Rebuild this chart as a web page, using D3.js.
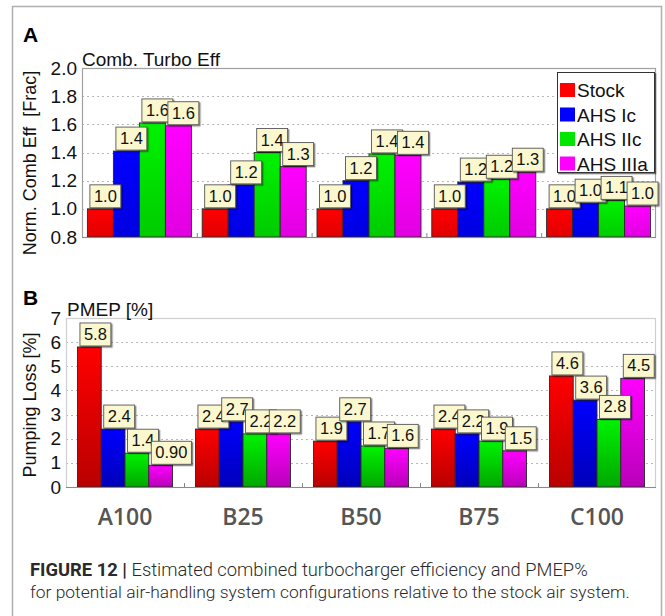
<!DOCTYPE html>
<html>
<head>
<meta charset="utf-8">
<script src="https://cdn.jsdelivr.net/npm/d3@7"></script>
<style>
  html, body { margin: 0; padding: 0; background: #fff; }
  svg { display: block; }
</style>
</head>
<body>
<svg id="chart" width="665" height="616"></svg>
<script>
// ---- data ----
const categories = ["A100", "B25", "B50", "B75", "C100"];
const seriesNames = ["Stock", "AHS Ic", "AHS IIc", "AHS IIIa"];
const seriesColors = ["#ff0000", "#0000ff", "#00e600", "#ff00ff"];
// Panel A: normalised combined turbo efficiency [Frac]
const stockEff = [1.0, 1.0, 1.0, 1.0, 1.0];
const ahsIcEff = [1.41, 1.17, 1.20, 1.19, 1.04];
const ahsIIcEff = [1.61, 1.40, 1.39, 1.21, 1.06];
const ahsIIIaEff = [1.59, 1.30, 1.38, 1.26, 1.02];
const effTicks = [0.8, 1.0, 1.2, 1.4, 1.6, 1.8, 2.0];
// Panel B: PMEP [%]
const stockPmep = [5.8, 2.4, 1.9, 2.4, 4.6];
const ahsIcPmep = [2.4, 2.7, 2.7, 2.2, 3.6];
const ahsIIcPmep = [1.4, 2.2, 1.7, 1.9, 2.8];
const ahsIIIaPmep = [0.90, 2.2, 1.6, 1.5, 4.5];
const pmepTicks = [0, 1, 2, 3, 4, 5, 6, 7];

const svg = d3.select("#chart");
const FONT = "'Liberation Sans', Arial, sans-serif";

// outer frame
svg.append("path")
  .attr("d", "M12.5,620 V6.5 H661.5 V620")
  .attr("fill", "none").attr("stroke", "#b0b0b0").attr("stroke-width", 1.5);

const defs = svg.append("defs");
function makeGrad(id, color, k) {
  const c = d3.rgb(color);
  const g = defs.append("linearGradient").attr("id", id)
    .attr("x1", 0).attr("y1", 0).attr("x2", 0).attr("y2", 1);
  g.append("stop").attr("offset", "0%").attr("stop-color", c.brighter(0.15));
  g.append("stop").attr("offset", "100%").attr("stop-color", c.darker(k));
}
const shadowF = defs.append("filter").attr("id", "shadow")
  .attr("x", "-20%").attr("y", "-20%").attr("width", "150%").attr("height", "150%");
shadowF.append("feDropShadow").attr("dx", 1.3).attr("dy", 1.3)
  .attr("stdDeviation", 0.7).attr("flood-color", "#000").attr("flood-opacity", 0.5);

function panel(cfg) {
  const { id, left, right, top, bottom, domain, ticks, tickFmt, values, padFrac,
          gradK, borderColor, yTitle, subTitle, subX, letter, letterY, yTitleCenter } = cfg;
  const y = d3.scaleLinear().domain(domain).range([bottom, top]);
  const x0 = d3.scaleBand().domain(categories).range([left, right]).padding(0);
  const pad = x0.bandwidth() * padFrac;
  const x1 = d3.scaleBand().domain(seriesNames).range([pad, x0.bandwidth() - pad]).padding(0);

  seriesColors.forEach((c, i) => makeGrad(id + "g" + i, c, gradK));

  const g = svg.append("g");
  // gridlines
  g.selectAll(".grid").data(ticks.slice(1, -1)).join("line")
    .attr("x1", left).attr("x2", right)
    .attr("y1", d => Math.round(y(d)) + 0.5).attr("y2", d => Math.round(y(d)) + 0.5)
    .attr("stroke", "#b8b8b8").attr("stroke-width", 1).attr("stroke-dasharray", "2,3");
  // plot border
  g.append("rect").attr("x", left + 0.5).attr("y", top + 0.5)
    .attr("width", right - left - 1).attr("height", bottom - top)
    .attr("fill", "none").attr("stroke", borderColor).attr("stroke-width", 1.2);
  // y axis
  const yAxis = d3.axisLeft(y).tickValues(ticks).tickFormat(tickFmt).tickSize(0).tickPadding(5);
  const ya = g.append("g").attr("transform", `translate(${left},0)`).call(yAxis);
  ya.select(".domain").remove();
  ya.selectAll("text").attr("font-family", FONT).attr("font-size", 19).attr("fill", "#111");

  // band separator ticks
  g.selectAll(".sep").data(categories.slice(1)).join("line")
    .attr("x1", d => x0(d) + 0.5).attr("x2", d => x0(d) + 0.5)
    .attr("y1", bottom).attr("y2", bottom - 4)
    .attr("stroke", "#888").attr("stroke-width", 1);

  // bars
  const flat = [];
  categories.forEach((cat, ci) => {
    seriesNames.forEach((s, si) => flat.push({ cat, s, si, v: values[si][ci] }));
  });
  g.selectAll(".bar").data(flat).join("rect")
    .attr("x", d => x0(d.cat) + x1(d.s))
    .attr("y", d => y(d.v))
    .attr("width", x1.bandwidth())
    .attr("height", d => y(domain[0]) - y(d.v))
    .attr("fill", d => `url(#${id}g${d.si})`)
    .attr("stroke", "#2a2a2a").attr("stroke-width", 0.9);

  // bottom axis line
  g.append("line").attr("x1", left).attr("x2", right)
    .attr("y1", bottom + 0.5).attr("y2", bottom + 0.5)
    .attr("stroke", "#8a8a8a").attr("stroke-width", 1.2);

  // value labels
  const fmt = d3.format(".2r");
  flat.forEach(d => {
    const bx = x0(d.cat) + x1(d.s) + 2.5;
    const by = y(d.v) - 1;
    const lg = g.append("g");
    const t = lg.append("text").text(fmt(d.v))
      .attr("font-family", FONT).attr("font-size", 16.5).attr("fill", "#111");
    const w = t.node().getComputedTextLength();
    lg.insert("rect", "text")
      .attr("x", bx).attr("y", by - 23).attr("width", w + 8).attr("height", 23)
      .attr("fill", "#fbf8cf").attr("stroke", "#555").attr("stroke-width", 0.9)
      .attr("filter", "url(#shadow)");
    t.attr("x", bx + 4).attr("y", by - 6);
  });

  // subtitle
  svg.append("text").attr("x", subX).attr("y", top - 2).text(subTitle)
    .attr("font-family", FONT).attr("font-size", 19).attr("fill", "#111");
  // panel letter
  svg.append("text").attr("x", 23).attr("y", letterY).text(letter)
    .attr("font-family", FONT).attr("font-size", 21).attr("font-weight", "bold").attr("fill", "#000");
  // y title
  svg.append("text")
    .attr("transform", `translate(36,${yTitleCenter}) rotate(-90)`)
    .attr("text-anchor", "middle").text(yTitle)
    .attr("font-family", FONT).attr("font-size", 18).attr("fill", "#111")
    .style("white-space", "pre");
  return { x0 };
}

panel({
  id: "A", left: 82, right: 656, top: 68, bottom: 237, domain: [0.8, 2.0],
  ticks: effTicks, tickFmt: d3.format(".1f"),
  values: [stockEff, ahsIcEff, ahsIIcEff, ahsIIIaEff], padFrac: 0.047, gradK: 0.35,
  borderColor: "#a0a0a0", yTitle: "Norm. Comb Eff  [Frac]", subTitle: "Comb. Turbo Eff",
  subX: 82, letter: "A", letterY: 42, yTitleCenter: 163
});
const pb = panel({
  id: "B", left: 66, right: 656, top: 318, bottom: 487, domain: [0, 7],
  ticks: pmepTicks, tickFmt: d3.format("d"),
  values: [stockPmep, ahsIcPmep, ahsIIcPmep, ahsIIIaPmep], padFrac: 0.097, gradK: 0.9,
  borderColor: "#cfcfcf", yTitle: "Pumping Loss [%]", subTitle: "PMEP [%]",
  subX: 67, letter: "B", letterY: 305, yTitleCenter: 405
});

// category labels
svg.selectAll(".cat").data(categories).join("text")
  .attr("x", d => pb.x0(d) + pb.x0.bandwidth() / 2)
  .attr("y", 525).attr("text-anchor", "middle").text(d => d)
  .attr("font-family", "'Open Sans', sans-serif").attr("font-weight", 600)
  .attr("font-size", 23).attr("fill", "#555");

// legend
const lg = svg.append("g");
lg.append("rect").attr("x", 557.5).attr("y", 72.5).attr("width", 97).attr("height", 100)
  .attr("fill", "#fff").attr("stroke", "#333").attr("stroke-width", 1)
  .attr("filter", "url(#shadow)");
seriesNames.forEach((s, i) => {
  const cy = 90 + i * 24.5;
  lg.append("rect").attr("x", 560).attr("y", cy - 7).attr("width", 15).attr("height", 14)
    .attr("fill", seriesColors[i]);
  lg.append("text").attr("x", 577).attr("y", cy + 7).text(s)
    .attr("font-family", FONT).attr("font-size", 19).attr("fill", "#111");
});

// caption
function fitText(sel, target) {
  const w = sel.node().getComputedTextLength();
  const fs = parseFloat(sel.attr("font-size"));
  sel.attr("font-size", fs * target / w);
}
const cap1 = svg.append("text").attr("x", 30).attr("y", 576)
  .attr("font-family", "Roboto, sans-serif").attr("font-size", 16).attr("fill", "#2a2a2a");
cap1.append("tspan").attr("font-weight", "bold").text("FIGURE 12 | ");
cap1.append("tspan").attr("font-weight", 300).text("Estimated combined turbocharger efficiency and PMEP%");
fitText(cap1, 558);
const cap2 = svg.append("text").attr("x", 30).attr("y", 598)
  .attr("font-family", "Roboto, sans-serif").attr("font-weight", 300)
  .attr("font-size", 16).attr("fill", "#2a2a2a")
  .text("for potential air-handling system configurations relative to the stock air system.");
fitText(cap2, 600);
</script>
</body>
</html>
